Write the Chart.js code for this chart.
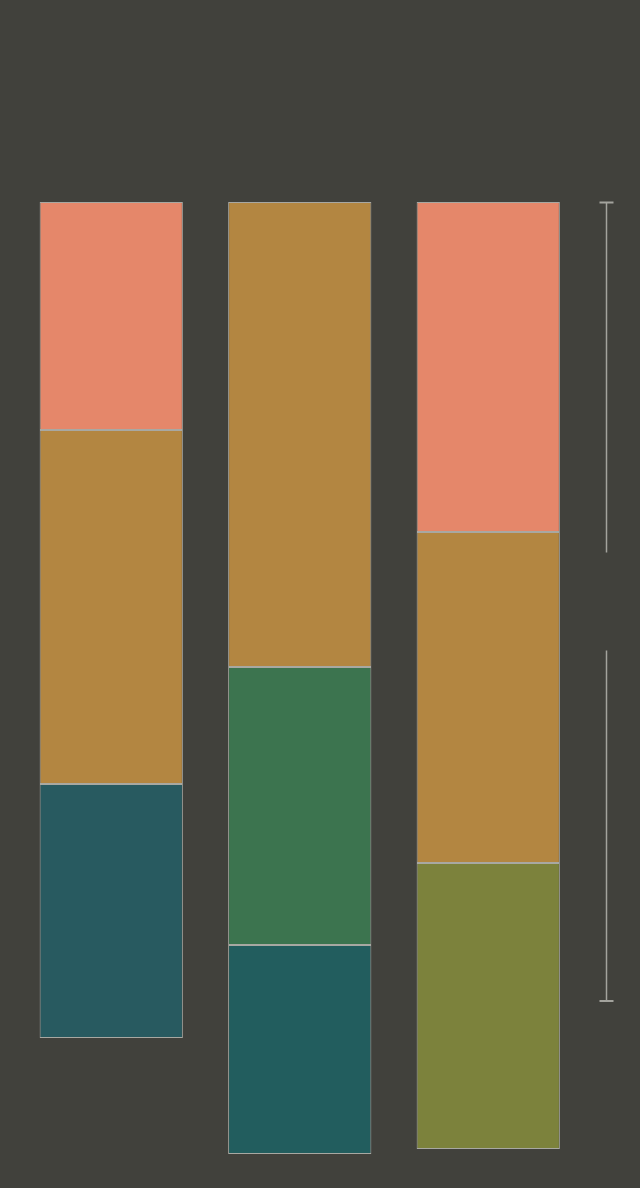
<!DOCTYPE html>
<html>
<head>
<meta charset="utf-8">
<script src="https://cdn.jsdelivr.net/npm/chart.js@4/dist/chart.umd.min.js"></script>
<style>
  html, body { margin: 0; padding: 0; background: #41413c; }
  #wrap { width: 640px; height: 1188px; position: relative; }
</style>
</head>
<body>
<div id="wrap"><canvas id="chart"></canvas></div>
<script>
// categories (no visible labels in the picture)
const categories = ['A', 'B', 'C'];

// segment values, stacked from the top down
const salmon = [228, 0, 330];
const ochre = [354, 465, 331];
const green = [0, 278, 0];
const olive = [0, 0, 286];
const teal = [254, 209, 0];

// bracket on the right: start, end, and half the gap in the middle
const bracket = [0, 799];
const bracketGap = 49;

const borderCol = '#a8a8a2';

const bracketPlugin = {
    id: 'bracket',
    afterDatasetsDraw(chart) {
        const ctx = chart.ctx;
        const y = chart.scales.y;
        const x = chart.chartArea.right + 24;
        const y0 = y.getPixelForValue(bracket[0]);
        const y1 = y.getPixelForValue(bracket[1]);
        const mid = (y0 + y1) / 2;
        ctx.save();
        ctx.strokeStyle = '#a3a39d';
        ctx.lineWidth = 1.5;
        ctx.beginPath();
        ctx.moveTo(x, y0);
        ctx.lineTo(x, mid - bracketGap);
        ctx.moveTo(x, mid + bracketGap);
        ctx.lineTo(x, y1);
        ctx.stroke();
        ctx.lineWidth = 2;
        ctx.beginPath();
        ctx.moveTo(x - 7, y0 + 0.5);
        ctx.lineTo(x + 7, y0 + 0.5);
        ctx.moveTo(x - 7, y1);
        ctx.lineTo(x + 7, y1);
        ctx.stroke();
        ctx.restore();
    }
};

function ds(data, color) {
    return {
        data: data,
        backgroundColor: color,
        borderColor: borderCol,
        borderWidth: 1,
        borderSkipped: false,
        barPercentage: 0.76,
        categoryPercentage: 1
    };
}

new Chart(document.getElementById('chart').getContext('2d'), {
    type: 'bar',
    data: {
        labels: categories,
        datasets: [
            ds(salmon, '#e5876a'),
            ds(ochre, '#b38641'),
            ds(green, '#3c744f'),
            ds(olive, '#7c823c'),
            ds(teal, ['#285a60', '#225d5e', '#225d5e'])
        ]
    },
    options: {
        responsive: true,
        maintainAspectRatio: false,
        animation: false,
        layout: { padding: { top: 202, bottom: 0, left: 17, right: 57.5 } },
        plugins: {
            legend: { display: false },
            tooltip: { enabled: false }
        },
        scales: {
            x: { stacked: true, display: false },
            y: { stacked: true, display: false, reverse: true, min: 0, max: 986 }
        }
    },
    plugins: [bracketPlugin]
});
</script>
</body>
</html>
